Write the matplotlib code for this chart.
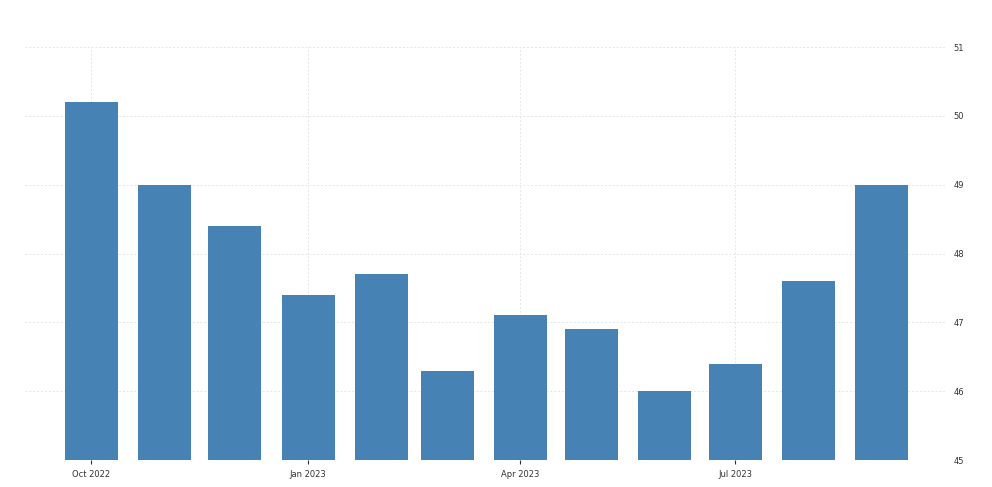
import matplotlib
matplotlib.use('Agg')
import matplotlib.pyplot as plt
import matplotlib.dates as mdates
import numpy as np
from datetime import date

plt.rcParams['font.family'] = 'DejaVu Sans'
plt.rcParams['font.size'] = 6

months = ['2022-10', '2022-11', '2022-12', '2023-01', '2023-02', '2023-03',
          '2023-04', '2023-05', '2023-06', '2023-07', '2023-08', '2023-09']
values = [50.2, 49.0, 48.4, 47.4, 47.7, 46.3, 47.1, 46.9, 46.0, 46.4, 47.6, 49.0]
tick_months = ['2022-10', '2023-01', '2023-04', '2023-07']
tick_labels = ['Oct 2022', 'Jan 2023', 'Apr 2023', 'Jul 2023']

dates = [date(int(m[:4]), int(m[5:]), 1) for m in months]
tick_dates = [date(int(m[:4]), int(m[5:]), 1) for m in tick_months]

fig = plt.figure(figsize=(9.92, 4.87), dpi=100)
ax = fig.add_axes([25/992, 27/487, 920/992, 413/487])

ax.bar(mdates.date2num(dates), values, width=22.5, color='#4682b4', zorder=2)

ax.set_xlim(mdates.date2num(date(2022, 9, 3)), mdates.date2num(date(2023, 9, 28)))
ax.set_ylim(45, 51)
ax.set_yticks(np.arange(45, 52, 1))
ax.set_xticks(mdates.date2num(tick_dates))
ax.set_xticklabels(tick_labels)

ax.yaxis.tick_right()
ax.tick_params(axis='y', length=0, pad=6, colors='#333333')
ax.tick_params(axis='x', length=3, pad=4, colors='#333333')
for t in ax.get_xticklines():
    t.set_color('#cccccc')

ax.grid(True, color='#e6e6e6', linestyle=(0, (2, 2)), linewidth=0.7, zorder=0)
for s in ax.spines.values():
    s.set_visible(False)

fig.savefig('out.png', dpi=100)
